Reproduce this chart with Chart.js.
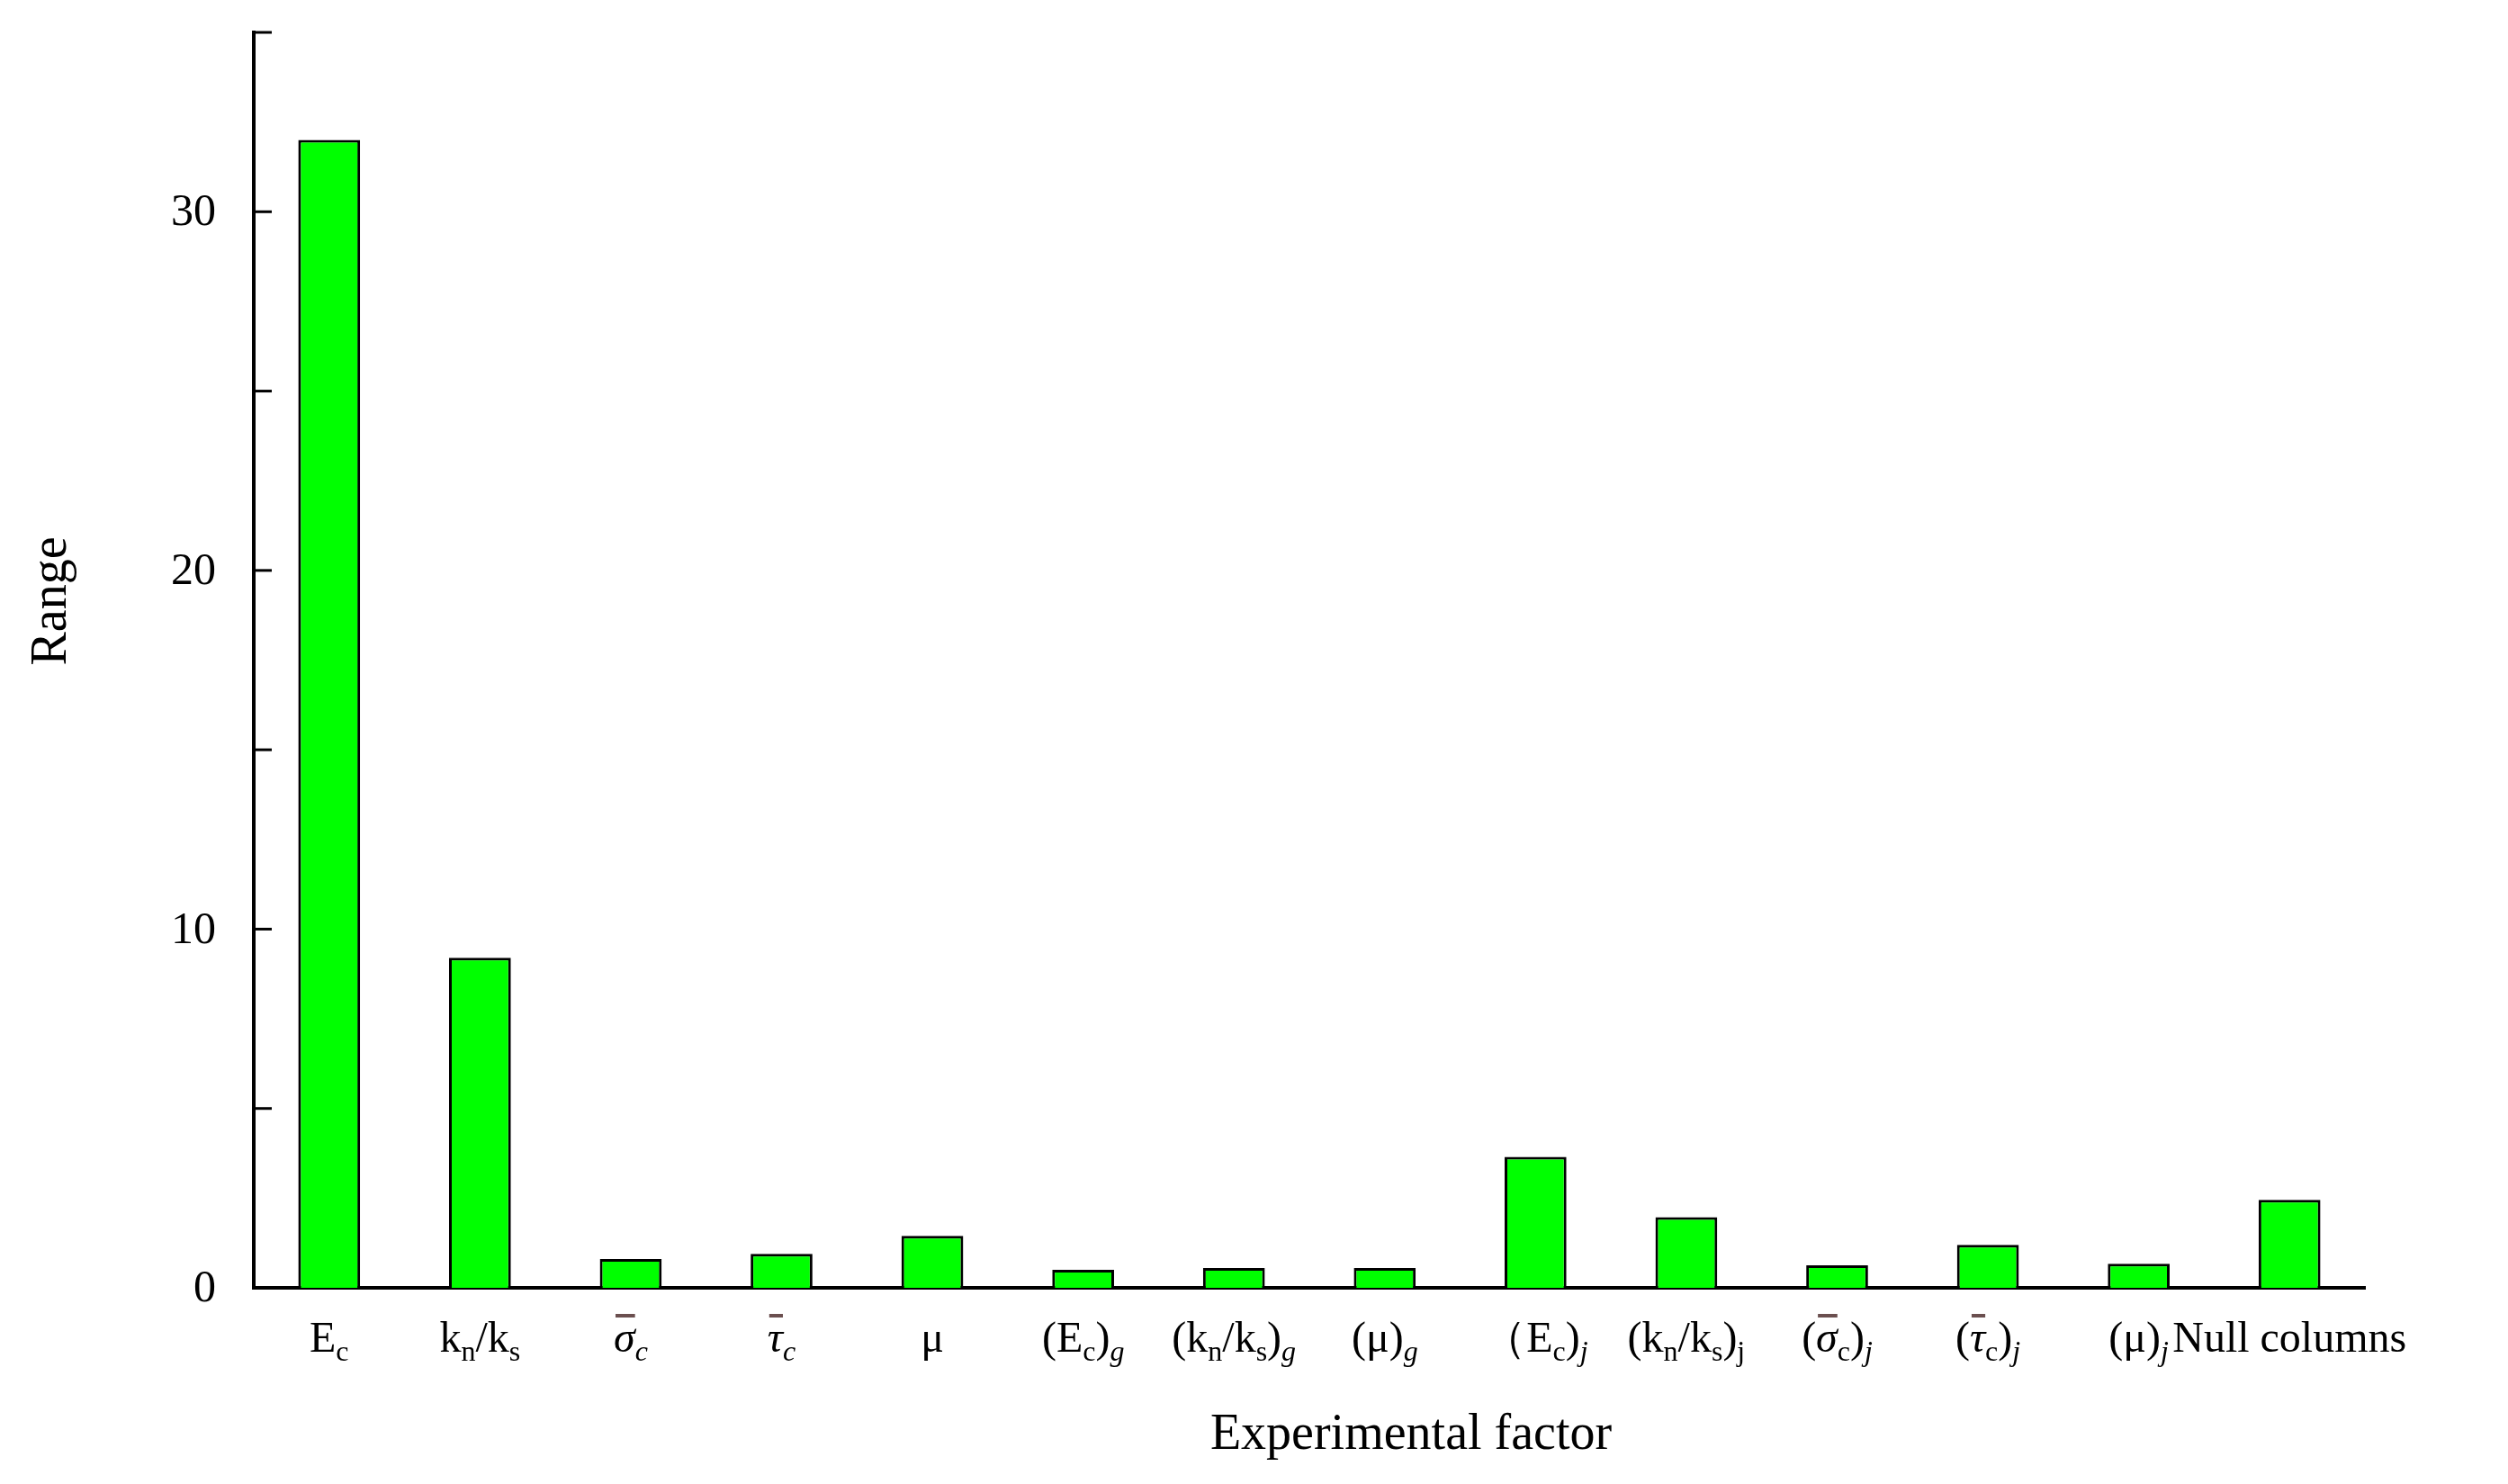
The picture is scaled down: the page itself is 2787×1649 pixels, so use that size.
<!DOCTYPE html>
<html>
<head>
<meta charset="utf-8">
<script src="https://cdn.jsdelivr.net/npm/chart.js@4"></script>
<style>
  html, body { margin: 0; padding: 0; background: #fff; }
  #wrap { width: 2787px; height: 1649px; }
</style>
</head>
<body>
<div id="wrap"><canvas id="rangeChart"></canvas></div>
<script>
// categories and values
const factors = ['Ec', 'kn/ks', 'σc', 'τc', 'μ', '(Ec)g', '(kn/ks)g', '(μ)g',
  '(Ec)j', '(kn/ks)j', '(σc)j', '(τc)j', '(μ)j', 'Null columns'];
const rangeValues = [32.0, 9.2, 0.8, 0.95, 1.45, 0.5, 0.55, 0.55, 3.65, 1.97, 0.63, 1.2, 0.67, 2.45];
const yTickLabels = [0, 10, 20, 30];

// rich label pieces: [text, style]
const labelParts = [
  [['E'], ['c', 'sub']],
  [['k'], ['n', 'sub'], ['/k'], ['s', 'sub']],
  [['σ', 'it bar'], ['c', 'sub it']],
  [['τ', 'it bar'], ['c', 'sub it']],
  [['μ']],
  [['(E'], ['c', 'sub'], [')'], ['g', 'sub it']],
  [['(k'], ['n', 'sub'], ['/k'], ['s', 'sub'], [')'], ['g', 'sub it']],
  [['(μ)'], ['g', 'sub it']],
  [['（E'], ['c', 'sub'], [')'], ['j', 'sub it']],
  [['(k'], ['n', 'sub'], ['/k'], ['s', 'sub'], [')'], ['j', 'sub']],
  [['('], ['σ', 'it bar'], ['c', 'sub'], [')'], ['j', 'sub it']],
  [['('], ['τ', 'it bar'], ['c', 'sub'], [')'], ['j', 'sub it']],
  [['(μ)'], ['j', 'sub it']],
  [['Null columns']]
];

const SERIF = '"Liberation Serif", "DejaVu Serif", serif';

function fontFor(style) {
  const it = style && style.includes('it') ? 'italic ' : '';
  const size = style && style.includes('sub') ? 32 : 48;
  return it + size + 'px ' + SERIF;
}

const drawLabels = {
  id: 'drawLabels',
  afterDraw(chart) {
    const c = chart.ctx;
    const xs = chart.scales.x, ys = chart.scales.y;
    const area = chart.chartArea;
    c.save();
    c.fillStyle = '#000';
    c.strokeStyle = '#000';

    // y ticks pointing inward, every 5
    c.lineWidth = 3;
    for (let v = 0; v <= 35; v += 5) {
      const y = ys.getPixelForValue(v);
      c.beginPath();
      c.moveTo(area.left, y);
      c.lineTo(area.left + 20, y);
      c.stroke();
    }
    c.font = '50px ' + SERIF;
    c.textAlign = 'right';
    c.textBaseline = 'middle';
    yTickLabels.forEach(v => c.fillText(String(v), 240, ys.getPixelForValue(v) + 2));

    // x category labels with subscripts
    c.textBaseline = 'alphabetic';
    c.textAlign = 'left';
    labelParts.forEach((parts, i) => {
      let w = 0;
      parts.forEach(p => { c.font = fontFor(p[1]); w += c.measureText(p[0]).width; });
      let x = xs.getPixelForValue(i) - w / 2;
      const base = 1502;
      parts.forEach(p => {
        const st = p[1] || '';
        c.font = fontFor(st);
        const tw = c.measureText(p[0]).width;
        const y = st.includes('sub') ? base + 10 : base;
        c.fillText(p[0], x, y);
        if (st.includes('bar')) {
          c.fillStyle = '#6b4f4f';
          c.fillRect(x + 2, base - 42, tw - 2, 4);
          c.fillStyle = '#000';
        }
        x += tw;
      });
    });

    // axis titles
    c.font = '56px ' + SERIF;
    c.textAlign = 'center';
    c.fillText('Experimental factor', 1568, 1610);
    c.translate(58, 668);
    c.rotate(-Math.PI / 2);
    c.textBaseline = 'middle';
    c.fillText('Range', 0, 0);
    c.restore();
  }
};

new Chart(document.getElementById('rangeChart').getContext('2d'), {
  type: 'bar',
  data: {
    labels: factors,
    datasets: [{
      data: rangeValues,
      backgroundColor: '#00ff00',
      borderColor: '#000',
      borderWidth: 3,
      barPercentage: 0.41,
      categoryPercentage: 1
    }]
  },
  options: {
    responsive: true,
    maintainAspectRatio: false,
    animation: false,
    layout: { padding: { left: 282, right: 159, top: 36, bottom: 218 } },
    plugins: { legend: { display: false }, tooltip: { enabled: false } },
    scales: {
      x: {
        offset: true,
        grid: { display: false, drawTicks: false },
        border: { color: '#000', width: 4 },
        ticks: { display: false }
      },
      y: {
        min: 0, max: 35,
        grid: { display: false, drawTicks: false },
        border: { color: '#000', width: 4 },
        ticks: { display: false, stepSize: 5 }
      }
    }
  },
  plugins: [drawLabels]
});
</script>
</body>
</html>
